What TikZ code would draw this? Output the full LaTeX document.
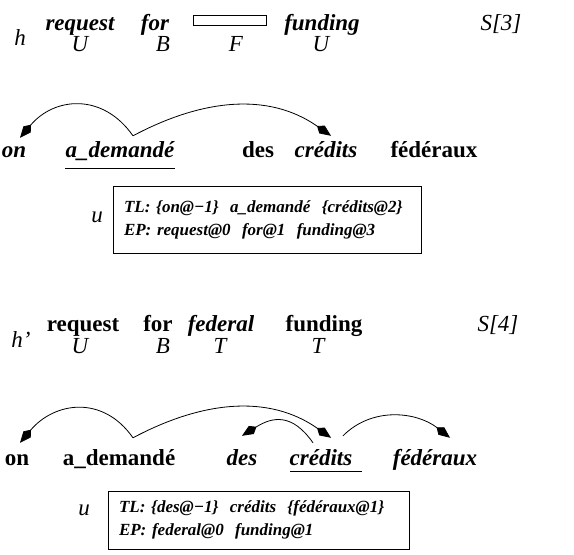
\documentclass[tikz,border=0pt]{standalone}
\usepackage{fontspec}
\setmainfont{Liberation Serif}
\usetikzlibrary{arrows.meta,calc}
\begin{document}
\begin{tikzpicture}[x=1pt,y=-1pt,
  word/.style={inner sep=0pt, anchor=base, text height=17pt, text depth=5pt},
  bi/.style={word, font=\fontsize{23}{27}\selectfont\bfseries\itshape},
  bu/.style={word, font=\fontsize{23}{27}\selectfont\bfseries},
  it/.style={word, font=\fontsize{23}{27}\selectfont\itshape},
  infobox/.style={draw, line width=0.8pt, inner xsep=11pt, inner ysep=0pt, align=left,
    font=\fontsize{17}{23}\selectfont\bfseries\itshape},
  arc/.style={line width=0.8pt, -{Kite[length=17pt,width=9.5pt,inset=6pt]}},
  uline/.style={line width=0.8pt}
]
\useasboundingbox (0,0) rectangle (574,555);

% ---------- row 1 : h ----------
\node[it] (h1) at (20,45) {h};
\node[bi] (req1) at (80,30) {request};
\node[it] (U1) at (80,51) {U};
\node[bi] (for1) at (155,30) {for};
\node[it] (B1) at (163,51) {B};
\node[draw, line width=0.8pt, minimum width=73pt, minimum height=10pt, inner sep=0pt] (gap1) at (229.5,20) {};
\node[it] (F1) at (236,51) {F};
\node[bi] (fund1) at (322,30) {funding};
\node[it] (U1b) at (321,51) {U};
\node[it] (S3) at (501,30) {S[3]};

% ---------- row 2 ----------
\node[bi] (on2) at (14,157) {on};
\node[bi] (dem2) at (120,157) {a\_demandé};
\node[bu] (des2) at (258,157) {des};
\node[bi] (cred2) at (326,157) {crédits};
\node[bu] (fed2) at (434,157) {fédéraux};
\draw[uline] ($(dem2.base)+(-55,11)$) -- ($(dem2.base)+(55,11)$);

\draw[arc] ([xshift=13pt,yshift=4pt]dem2.north) to[out=125,in=50,looseness=1.2] ([xshift=6pt,yshift=2pt]on2.north);
\draw[arc] ([xshift=13pt,yshift=4pt]dem2.north) to[out=28,in=145] ([xshift=5pt,yshift=4pt]cred2.north);

% box 1
\node[it] (u1) at (97,222) {u};
\node[infobox, minimum width=308pt, minimum height=67pt, text width=286pt] (box1) at (267,220)
  {TL: \{on@−1\}~ a\_demandé~ \{crédits@2\}\\EP: request@0~ for@1~ funding@3};

% ---------- row 3 : h' ----------
\node[it] (h3) at (21,347) {h’};
\node[bu] (req3) at (83,331) {request};
\node[it] (U3) at (80,353) {U};
\node[bu] (for3) at (158,331) {for};
\node[it] (B3) at (163,353) {B};
\node[bi] (fedl3) at (221,331) {federal};
\node[it] (T3) at (220,353) {T};
\node[bu] (fund3) at (324,331) {funding};
\node[it] (T3b) at (318,353) {T};
\node[it] (S4) at (498,331) {S[4]};

% ---------- row 4 ----------
\node[bu] (on4) at (17,465) {on};
\node[bu] (dem4) at (119,465) {a\_demandé};
\node[bi] (des4) at (242,465) {des};
\node[bi] (cred4) at (321,465) {crédits};
\node[bi] (fed4) at (435,465) {fédéraux};
\draw[uline] ($(cred4.base)+(-31,6)$) -- ($(cred4.base)+(41,6)$);

\draw[arc] ([xshift=14pt,yshift=10pt]dem4.north) to[out=125,in=50,looseness=1.2] ([xshift=3pt,yshift=5pt]on4.north);
\draw[arc] ([xshift=14pt,yshift=10pt]dem4.north) to[out=28,in=145] ([xshift=10pt,yshift=10pt]cred4.north);
\draw[arc] ([xshift=-8pt,yshift=5pt]cred4.north) to[out=125,in=32,looseness=1.3] ([yshift=12pt]des4.north);
\draw[arc] ([xshift=22pt,yshift=12pt]cred4.north) to[out=45,in=142] ([xshift=15pt,yshift=10pt]fed4.north);

% box 2
\node[it] (u2) at (84,515) {u};
\node[infobox, minimum width=301pt, minimum height=58pt, text width=279pt] (box2) at (258.5,520)
  {TL: \{des@−1\}~ crédits~ \{fédéraux@1\}\\EP: federal@0~ funding@1};
\end{tikzpicture}
\end{document}
